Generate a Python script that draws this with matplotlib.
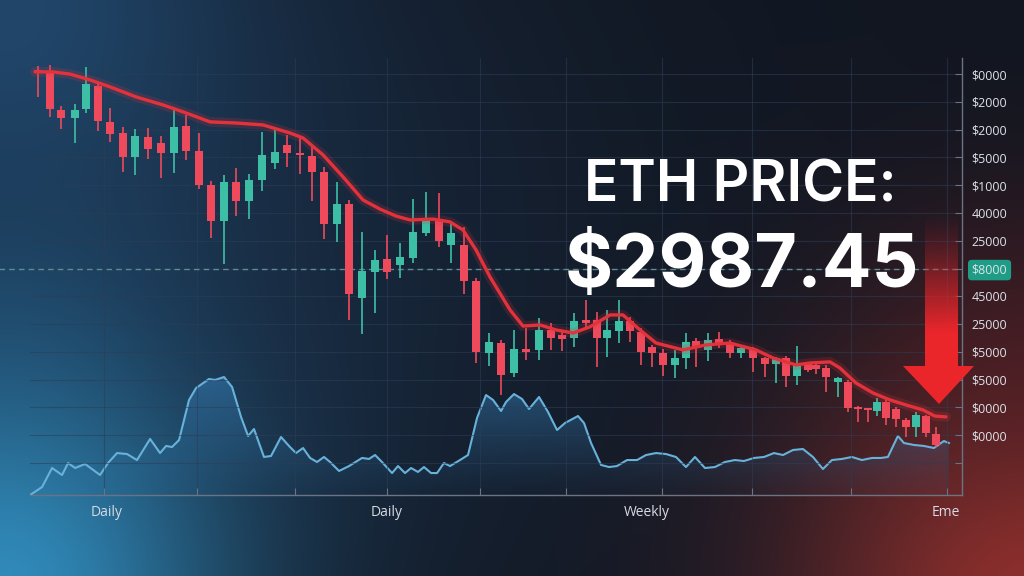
import numpy as np
import matplotlib.pyplot as plt
from matplotlib.patches import Polygon

# candles: time position, open, high, low, close
t = [0.41, 1.38, 2.27, 3.41, 4.30, 5.27, 6.24, 7.30, 8.27, 9.33,
     10.38, 11.44, 12.41, 13.46, 14.44, 15.49, 16.46, 17.52, 18.57, 19.63,
     20.60, 21.65, 22.63, 23.60, 24.66, 25.63, 26.68, 27.74, 28.71, 29.77,
     30.82, 31.87, 32.93, 33.90, 34.96, 35.93, 36.98, 37.96, 39.01, 39.98,
     41.04, 42.01, 42.90, 43.88, 44.85, 45.74, 46.55, 47.53, 48.42, 49.31,
     50.20, 51.09, 52.07, 52.96, 53.77, 54.74, 55.64, 56.53, 57.42, 58.39,
     59.37, 60.26, 61.07, 61.96, 62.85, 63.50, 64.31, 65.29, 66.10, 66.91,
     67.72, 68.45, 69.18, 69.99, 70.80, 71.61, 72.42, 73.24]
opens = [4015, 4004, 3871, 3842, 3874, 3957, 3828, 3788, 3702, 3774,
         3752, 3716, 3813, 3723, 3601, 3471, 3612, 3543, 3619, 3680,
         3745, 3716, 3705, 3648, 3460, 3532, 3194, 3288, 3334, 3313,
         3338, 3428, 3475, 3385, 3385, 3255, 2996, 3032, 2924, 3010,
         3007, 3079, 3061, 3050, 3115, 3115, 3050, 3075, 3111, 3072,
         3018, 2996, 2953, 2978, 3039, 3007, 3046, 3032, 2996, 3007,
         2978, 2956, 2978, 2913, 2956, 2953, 2942, 2892, 2892, 2802,
         2798, 2787, 2820, 2794, 2755, 2730, 2769, 2704]
highs = [4029, 4033, 3885, 3892, 4026, 3975, 3878, 3810, 3802, 3806,
         3777, 3878, 3853, 3788, 3615, 3637, 3662, 3640, 3792, 3806,
         3781, 3770, 3745, 3666, 3612, 3547, 3432, 3367, 3421, 3392,
         3550, 3576, 3572, 3464, 3450, 3266, 3068, 3043, 3079, 3086,
         3122, 3104, 3072, 3140, 3187, 3144, 3151, 3187, 3126, 3086,
         3025, 3010, 3007, 3068, 3050, 3068, 3072, 3043, 3025, 3018,
         2982, 2982, 2985, 3021, 2964, 2960, 2953, 2910, 2899, 2805,
         2798, 2834, 2838, 2802, 2762, 2784, 2773, 2730]
lows = [3918, 3846, 3802, 3752, 3860, 3795, 3756, 3648, 3637, 3694,
        3626, 3644, 3691, 3586, 3410, 3316, 3489, 3478, 3579, 3658,
        3666, 3640, 3543, 3406, 3396, 3115, 3064, 3140, 3262, 3266,
        3320, 3417, 3378, 3320, 3208, 2960, 2949, 2845, 2910, 2971,
        2971, 3007, 3003, 3018, 3086, 2946, 2982, 3032, 3036, 2953,
        2946, 2913, 2906, 2938, 2946, 2967, 3014, 2978, 2978, 2928,
        2910, 2888, 2874, 2881, 2928, 2920, 2856, 2838, 2784, 2748,
        2748, 2769, 2737, 2730, 2694, 2694, 2694, 2658]
closes = [4004, 3874, 3842, 3871, 3964, 3831, 3784, 3702, 3777, 3730,
          3716, 3810, 3723, 3601, 3471, 3612, 3543, 3619, 3709, 3720,
          3716, 3709, 3648, 3460, 3532, 3208, 3291, 3331, 3288, 3342,
          3432, 3475, 3399, 3428, 3255, 3000, 3036, 2917, 3010, 3000,
          3079, 3050, 3046, 3111, 3104, 3050, 3079, 3111, 3075, 3000,
          2996, 2953, 2978, 3036, 3014, 3043, 3032, 2996, 3014, 2978,
          2956, 2978, 2913, 2953, 2935, 2938, 2910, 2906, 2798, 2794,
          2791, 2820, 2762, 2758, 2730, 2773, 2708, 2665]

# moving average
ma_t = [0.16, 1.62, 3.0, 4.62, 6.24, 8.35, 10.54, 12.17, 14.36, 16.46,
        18.65, 20.84, 21.90, 23.52, 25.14, 26.76, 28.14, 29.44, 30.58, 32.44,
        33.82, 34.87, 35.93, 37.06, 38.69, 39.74, 41.12, 42.42, 43.80, 45.17,
        46.80, 47.85, 49.23, 50.53, 52.72, 54.58, 56.53, 58.64, 60.02, 61.88,
        63.02, 64.64, 65.45, 66.75, 68.13, 69.51, 70.80, 72.18, 73.15, 74.05]
ma_p = [4008, 4008, 4000, 3979, 3954, 3918, 3889, 3864, 3828, 3824,
        3817, 3788, 3770, 3709, 3630, 3547, 3514, 3489, 3475, 3478,
        3468, 3439, 3367, 3270, 3151, 3093, 3097, 3079, 3068, 3090,
        3133, 3133, 3079, 3032, 3007, 3025, 3032, 3007, 2978, 2953,
        2960, 2964, 2942, 2888, 2852, 2827, 2809, 2791, 2769, 2766]

# volume
vol_t = [-0.24, 0.73, 1.54, 2.35, 2.84, 3.41, 4.22, 5.43, 6.08, 6.81,
         7.62, 8.43, 9.49, 10.30, 10.79, 11.27, 11.84, 12.65, 13.22, 14.27,
         14.76, 15.49, 16.14, 16.87, 17.44, 17.92, 18.73, 19.30, 20.11, 20.84,
         21.33, 21.90, 22.47, 23.03, 23.60, 24.09, 24.82, 25.63, 26.68, 27.25,
         27.74, 28.30, 29.12, 29.60, 30.17, 30.66, 31.22, 31.71, 32.28, 32.77,
         33.33, 33.82, 34.63, 35.28, 36.01, 36.74, 37.31, 37.96, 38.36, 39.01,
         39.66, 40.23, 41.04, 41.77, 42.50, 43.15, 44.20, 44.69, 45.26, 46.07,
         46.72, 47.36, 48.18, 48.99, 49.72, 50.53, 51.34, 52.15, 52.96, 53.69,
         54.50, 55.31, 56.12, 56.93, 57.66, 58.48, 59.29, 60.10, 60.83, 61.64,
         62.45, 63.26, 64.07, 64.80, 65.61, 66.42, 67.23, 68.05, 68.78, 69.34,
         70.15, 70.64, 71.45, 72.26, 73.07, 73.88, 74.29]
vol = [0.0, 0.73, 2.47, 1.83, 2.93, 2.47, 2.84, 1.83, 2.93, 3.84,
       3.75, 3.20, 5.13, 3.84, 4.49, 4.39, 5.03, 8.70, 9.79, 10.62,
       10.53, 10.80, 9.89, 7.14, 5.40, 6.04, 3.48, 3.57, 5.31, 4.39,
       3.84, 4.30, 3.39, 3.02, 3.48, 3.02, 2.20, 2.65, 3.39, 3.30,
       3.66, 3.02, 2.01, 2.65, 2.01, 2.47, 2.11, 2.56, 2.01, 2.01,
       2.93, 2.65, 3.20, 3.66, 7.05, 9.15, 8.70, 7.69, 8.51, 9.24,
       8.79, 7.87, 8.97, 7.60, 5.95, 6.59, 7.23, 6.59, 4.76, 2.75,
       2.56, 2.65, 3.20, 3.20, 3.66, 3.84, 3.75, 3.48, 2.56, 3.48,
       2.47, 2.56, 3.02, 3.20, 3.11, 3.39, 3.48, 3.84, 3.66, 4.12,
       4.21, 3.48, 2.38, 3.20, 3.30, 3.48, 3.20, 3.39, 3.39, 3.48,
       5.40, 4.76, 4.58, 4.49, 4.30, 4.94, 4.76]

price_ticks = [4000, 3900, 3800, 3700, 3600, 3500, 3400, 3300,
               3200, 3100, 3000, 2900, 2800, 2700, 2600]
price_labels = ["$0000", "$2000", "$2000", "$5000", "$1000", "40000", "25000", "$8000",
                "45000", "25000", "$5000", "$5000", "$0000", "$0000", ""]
grid_t = [5.76, 13.30, 21.25, 28.71, 36.25, 43.23, 51.01, 58.31, 66.34, 74.13]
period_t = [6.0, 28.71, 49.8, 74.05]
period_labels = ["Daily", "Daily", "Weekly", "Eme"]
marked_level = 3300
title = "ETH PRICE:"
last_price = "$2987.45"

UP = "#3dbfa6"
DOWN = "#ee4a5c"
W, H = 1024, 576

fig = plt.figure(figsize=(10.24, 5.76), dpi=100)

# background glow
yy, xx = np.mgrid[0:H, 0:W]
img = np.ones((H, W, 3)) * np.array([17, 22, 32]) / 255


def glow(img, cx, cy, r, col, s):
    d2 = ((xx - cx) ** 2 + (yy - cy) ** 2) / r ** 2
    w = (np.exp(-d2) * s)[..., None]
    return img + w * (np.array(col) / 255 - img)


img = glow(img, 160, 260, 430, (25, 44, 68), 0.85)
img = glow(img, 0, 0, 240, (36, 82, 124), 0.75)
img = glow(img, 0, 330, 160, (30, 70, 106), 0.5)
img = glow(img, 0, 590, 230, (48, 138, 186), 1.0)
img = glow(img, 1040, 590, 240, (152, 50, 46), 0.95)
img = glow(img, 1024, 360, 170, (80, 28, 34), 0.45)

bg = fig.add_axes([0, 0, 1, 1])
bg.imshow(img, extent=[0, W, H, 0], aspect="auto", zorder=0)
bg.set_xlim(0, W)
bg.set_ylim(H, 0)
bg.axis("off")

rect = [30 / W, 81 / H, 932 / W, 437 / H]
xlim = (-0.25, 75.35)

# volume area (behind candles)
vx = fig.add_axes(rect)
vx.set_facecolor("none")
poly = vx.fill_between(vol_t, vol, 0, color="none")
grad = np.linspace(0, 1, 256).reshape(-1, 1)
grad_rgba = np.zeros((256, 1, 4))
grad_rgba[..., 0] = 0.20
grad_rgba[..., 1] = 0.47
grad_rgba[..., 2] = 0.68
grad_rgba[..., 3] = 0.05 + 0.6 * grad ** 1.2
im = vx.imshow(grad_rgba, extent=[xlim[0], xlim[1], 0, 11.5], origin="lower",
               aspect="auto", zorder=1)
im.set_clip_path(poly.get_paths()[0], transform=vx.transData)
vx.plot(vol_t, vol, color="#68b2da", lw=1.5, zorder=2)
vx.set_xlim(*xlim)
vx.set_ylim(0, 40)
vx.axis("off")

# price axes
ax = fig.add_axes(rect, sharex=vx)
ax.set_facecolor("none")
ax.set_xlim(*xlim)
ax.set_ylim(2484.8, 4058)

colors = [UP if c >= o else DOWN for o, c in zip(opens, closes)]
bottoms = [min(o, c) for o, c in zip(opens, closes)]
heights = [max(abs(c - o), 7) for o, c in zip(opens, closes)]
ax.vlines(t, lows, highs, colors=colors, lw=1.2, zorder=3)
ax.bar(t, heights, bottom=bottoms, width=0.6, color=colors, zorder=4)

ax.plot(ma_t, ma_p, color="#e2323c", lw=7, alpha=0.18, zorder=5,
        solid_capstyle="round", solid_joinstyle="round")
ax.plot(ma_t, ma_p, color="#e2323c", lw=2.4, zorder=6,
        solid_capstyle="round", solid_joinstyle="round")

ax.axhline(marked_level, xmin=-0.035, xmax=1, color="#5d8c93", lw=1,
           ls=(0, (4, 3)), clip_on=False, zorder=2)

ax.grid(True, color="#2e3d55", lw=0.8, alpha=0.55)
for s in ["top", "left"]:
    ax.spines[s].set_visible(False)
for s in ["right", "bottom"]:
    ax.spines[s].set_color("#6b7384")
    ax.spines[s].set_linewidth(1)

ax.yaxis.tick_right()
ax.set_yticks(price_ticks, price_labels)
ax.tick_params(axis="y", direction="in", length=5, color="#6b7384",
               labelcolor="#dde2ea", labelsize=9, pad=7)
for lab in ax.get_yticklabels():
    lab.set_family("Open Sans")
ax.get_yticklabels()[price_ticks.index(marked_level)].set_bbox(
    dict(boxstyle="round,pad=0.3", fc="#1f9c85", ec="none"))

ax.xaxis.remove_overlapping_locs = False
ax.set_xticks(grid_t, [""] * len(grid_t))
ax.set_xticks(period_t, period_labels, minor=True)
ax.tick_params(axis="x", which="major", direction="in", length=5, color="#6b7384")
ax.tick_params(axis="x", which="minor", length=0, pad=7, labelcolor="#d6dbe3",
               labelsize=10)
for lab in ax.get_xticklabels(minor=True):
    lab.set_family("Open Sans")

# arrow and big text overlay
ov = fig.add_axes([0, 0, 1, 1])
ov.set_xlim(0, W)
ov.set_ylim(H, 0)
ov.axis("off")
ov.patch.set_alpha(0)
arrow = Polygon([(925, 212), (958, 212), (958, 366), (974, 366), (939, 404),
                 (903, 366), (925, 366)], closed=True, fc="none", ec="none")
ov.add_patch(arrow)
ag = np.zeros((256, 1, 4))
ag[..., 0] = 0.92
ag[..., 1] = 0.15
ag[..., 2] = 0.17
ag[..., 3] = np.clip(np.linspace(0, 1.6, 256), 0, 1).reshape(-1, 1) ** 1.3
aim = ov.imshow(ag, extent=[900, 980, 212, 404], origin="lower", aspect="auto",
                zorder=5)
aim.set_clip_path(arrow)
ov.set_xlim(0, W)
ov.set_ylim(H, 0)

ov.text(740, 202, title, ha="center", va="baseline", color="white",
        fontsize=41, fontweight="semibold", family="Inter", zorder=6)
ov.text(742, 287, last_price, ha="center", va="baseline", color="white",
        fontsize=53, fontweight="bold", family="Inter", zorder=6)

fig.savefig("out.png", dpi=100)
